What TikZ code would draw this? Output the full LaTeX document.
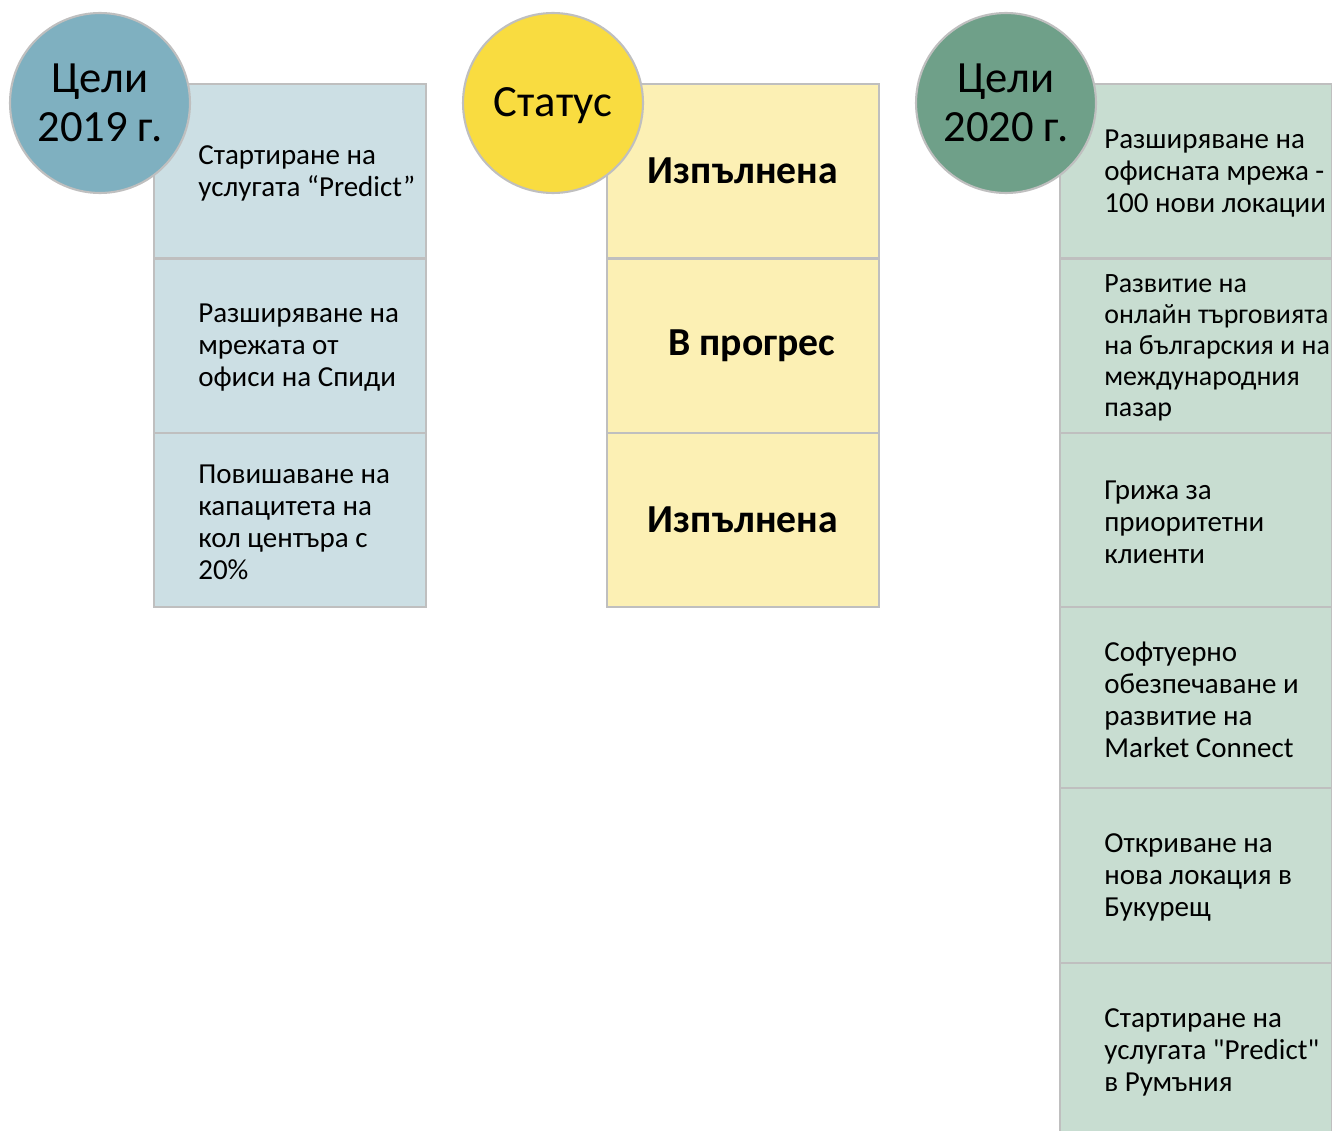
\documentclass[tikz,border=0pt]{standalone}
\usepackage{fontspec}
\setmainfont{Carlito}[Ligatures=TeXOff]
\usetikzlibrary{positioning}
\definecolor{framegray}{HTML}{BFBFBF}
\definecolor{bluecirc}{HTML}{7FB0C0}
\definecolor{bluebox}{HTML}{CCDFE4}
\definecolor{yellowcirc}{HTML}{F9DC40}
\definecolor{yellowbox}{HTML}{FCF0B4}
\definecolor{greencirc}{HTML}{6FA089}
\definecolor{greenbox}{HTML}{C8DDD1}

\begin{document}
\begin{tikzpicture}[x=0.02cm,y=-0.02cm]
\tikzset{goal/.style={draw=framegray, line width=1.2pt, minimum width=5.44cm, minimum height=3.49cm, inner sep=0pt, outer sep=0pt},
	badge/.style={circle, draw=framegray, line width=1.2pt, minimum size=3.6cm, inner sep=0pt, align=center, font=\fontsize{25.4}{27.9}\selectfont},
	goaltext/.style={inner sep=0pt, align=left, yshift=-0.04cm, font=\fontsize{16.5}{18.2}\selectfont},
	statetext/.style={inner sep=0pt, font=\fontsize{22.6}{24}\selectfont\bfseries}}
\useasboundingbox (0,0) rectangle (1332,1131);

				\node[goal, fill=bluebox, anchor=north west] (old1) at (154,84) {};
				\node[goal, fill=bluebox, below=0pt of old1] (old2) {};
				\node[goal, fill=bluebox, below=0pt of old2] (old3) {};
				\node[goaltext, right=0.88cm of old1.west] (oldt1) {Стартиране на\\услугата “Predict”};
				\node[goaltext, right=0.88cm of old2.west] (oldt2) {Разширяване на\\мрежата от\\офиси на Спиди};
				\node[goaltext, right=0.88cm of old3.west] (oldt3) {Повишаване на\\капацитета на\\кол центъра с\\20\%};

				\node[goal, fill=yellowbox, anchor=north west] (now1) at (607,84) {};
				\node[goal, fill=yellowbox, below=0pt of now1] (now2) {};
				\node[goal, fill=yellowbox, below=0pt of now2] (now3) {};
				\node[statetext] (nowt1) at (now1) {Изпълнена};
				\node[statetext, xshift=0.18cm] (nowt2) at (now2) {В прогрес};
				\node[statetext] (nowt3) at (now3) {Изпълнена};

				\node[goal, fill=greenbox, anchor=north west] (new1) at (1060,84) {};
				\node[goal, fill=greenbox, below=0pt of new1] (new2) {};
				\node[goal, fill=greenbox, below=0pt of new2] (new3) {};
				\node[goal, fill=greenbox, below=0pt of new3, minimum height=3.62cm] (new4) {};
				\node[goal, fill=greenbox, below=0pt of new4] (new5) {};
				\node[goal, fill=greenbox, below=0pt of new5] (new6) {};
				\node[goaltext, right=0.88cm of new1.west] (newt1) {Разширяване на\\офисната мрежа -\\100 нови локации};
				\node[goaltext, right=0.88cm of new2.west, font=\fontsize{15.9}{17.6}\selectfont] (newt2) {Развитие на\\онлайн търговията\\на българския и на\\международния\\пазар};
				\node[goaltext, right=0.88cm of new3.west] (newt3) {Грижа за\\приоритетни\\клиенти};
				\node[goaltext, right=0.88cm of new4.west] (newt4) {Софтуерно\\обезпечаване и\\развитие на\\Market Connect};
				\node[goaltext, right=0.88cm of new5.west] (newt5) {Откриване на\\нова локация в\\Букурещ};
				\node[goaltext, right=0.88cm of new6.west] (newt6) {Стартиране на\\услугата "Predict"\\в Румъния};

				\node[badge, fill=bluecirc] (y2019) at (100,103) {Цели\\2019 г.};
				\node[badge, fill=yellowcirc] (status) at (553,103) {\raisebox{-0.06cm}[\height][\depth]{Статус}};
				\node[badge, fill=greencirc] (y2020) at (1006,103) {Цели\\2020 г.};
\end{tikzpicture}
\end{document}
